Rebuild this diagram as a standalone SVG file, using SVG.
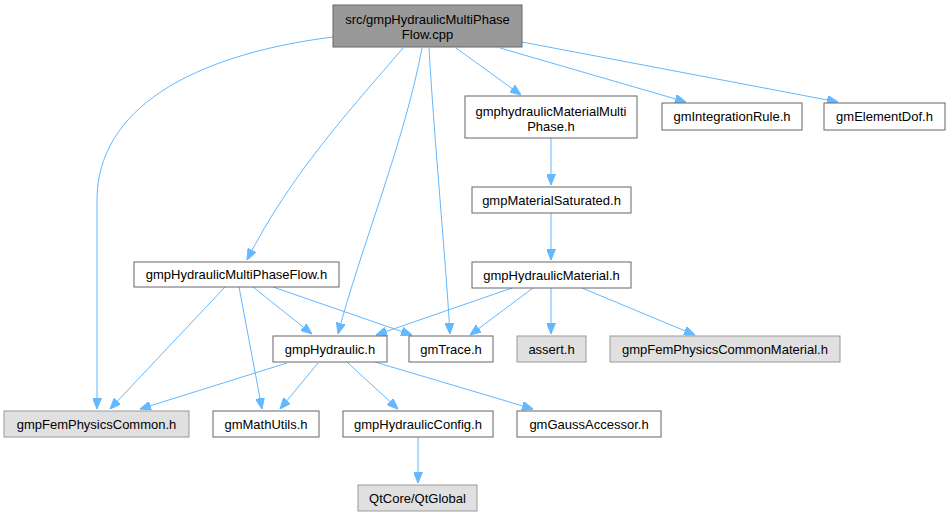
<svg xmlns="http://www.w3.org/2000/svg" width="950" height="517" viewBox="0 0 950 517">
<style>
text{font-family:"Liberation Sans",Arial,sans-serif;font-size:13px;fill:#000;text-anchor:middle}
.n rect{fill:#fff;stroke:#666;stroke-width:1}
.g rect{fill:#e0e0e0;stroke:#999;stroke-width:1}
.r rect{fill:#999;stroke:#666;stroke-width:1}
.e path{fill:none;stroke:#63b8ff;stroke-width:1;marker-end:url(#a)}
</style>
<defs>
<marker id="a" viewBox="0 0 11 9" refX="11" refY="4.5" markerWidth="11" markerHeight="9" markerUnits="userSpaceOnUse" orient="auto">
<path d="M0,0 L11,4.5 L0,9 z" fill="#63b8ff" stroke="#63b8ff" stroke-width="1"/>
</marker>
</defs>
<rect width="950" height="517" fill="#fff"/>
<g class="e" id="edges">
<path d="M333,37 C190,55 97,110 97,200 L97,409"/>
<path d="M403,48 C350,110 290,175 247,260"/>
<path d="M422,48 C405,140 360,250 338,334"/>
<path d="M429,48 C435,150 445,250 450,334"/>
<path d="M456,48 L521,95"/>
<path d="M500,48 L686,102"/>
<path d="M522,42 L838,102"/>
<path d="M551,138 L551,185"/>
<path d="M551,213 L551,260"/>
<path d="M512,288 L376,335"/>
<path d="M533,288 L470,335"/>
<path d="M551,288 L551,334"/>
<path d="M582,288 L695,335"/>
<path d="M225,287 L110,409"/>
<path d="M239,287 L262,409"/>
<path d="M253,287 L312,334"/>
<path d="M273,287 L412,335"/>
<path d="M287,363 L140,409"/>
<path d="M318,363 L280,409"/>
<path d="M347,362 L398,409"/>
<path d="M375,362 L533,409"/>
<path d="M418,437 L418,483"/>
</g>
<g class="r" id="root"><rect x="333" y="5" width="189" height="42"/><text x="427.5" y="24">src/gmpHydraulicMultiPhase</text><text x="427.5" y="39">Flow.cpp</text></g>
<g class="n" id="matmulti"><rect x="465" y="96" width="172" height="42"/><text x="551" y="115.5">gmphydraulicMaterialMulti</text><text x="551" y="130.5">Phase.h</text></g>
<g class="n" id="intrule"><rect x="662" y="103" width="140" height="27"/><text x="732" y="121">gmIntegrationRule.h</text></g>
<g class="n" id="elemdof"><rect x="824" y="103" width="121" height="27"/><text x="884.5" y="121">gmElementDof.h</text></g>
<g class="n" id="matsat"><rect x="472" y="187" width="159" height="26"/><text x="551.5" y="204.5">gmpMaterialSaturated.h</text></g>
<g class="n" id="hydmat"><rect x="472" y="262" width="159" height="26"/><text x="551.5" y="279.5">gmpHydraulicMaterial.h</text></g>
<g class="n" id="mpflow"><rect x="134" y="262" width="205" height="25"/><text x="236.5" y="279">gmpHydraulicMultiPhaseFlow.h</text></g>
<g class="n" id="hyd"><rect x="273" y="336" width="114" height="26"/><text x="330" y="353.5">gmpHydraulic.h</text></g>
<g class="n" id="trace"><rect x="409" y="336" width="84" height="26"/><text x="451" y="353.5">gmTrace.h</text></g>
<g class="g" id="assert"><rect x="517" y="336" width="69" height="26"/><text x="551.5" y="353.5">assert.h</text></g>
<g class="g" id="femmat"><rect x="610" y="336" width="230" height="26"/><text x="725" y="353.5">gmpFemPhysicsCommonMaterial.h</text></g>
<g class="g" id="fem"><rect x="4" y="411" width="185" height="26"/><text x="96.5" y="428.5">gmpFemPhysicsCommon.h</text></g>
<g class="n" id="mathutils"><rect x="213" y="411" width="106" height="26"/><text x="266" y="428.5">gmMathUtils.h</text></g>
<g class="n" id="hydconf"><rect x="343" y="411" width="150" height="26"/><text x="418" y="428.5">gmpHydraulicConfig.h</text></g>
<g class="n" id="gauss"><rect x="517" y="411" width="144" height="26"/><text x="589" y="428.5">gmGaussAccessor.h</text></g>
<g class="g" id="qt"><rect x="358" y="485" width="119" height="26"/><text x="417.5" y="502.5">QtCore/QtGlobal</text></g>
</svg>
